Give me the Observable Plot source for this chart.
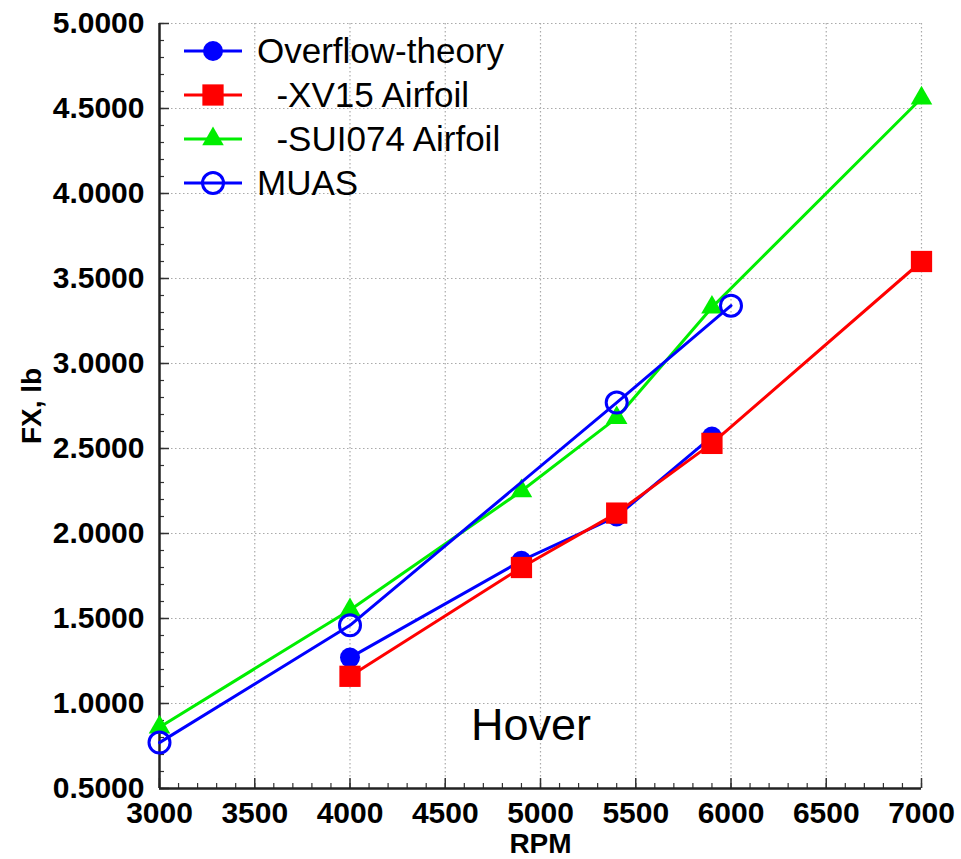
<!DOCTYPE html>
<html><head><meta charset="utf-8">
<script src="https://cdn.jsdelivr.net/npm/d3@7"></script>
<script src="https://cdn.jsdelivr.net/npm/@observablehq/plot@0.6"></script>
<style>
body{margin:0;background:#fff;}
#wrap{position:relative;width:961px;height:859px;font-family:"Liberation Sans",Arial,sans-serif;}
#wrap svg{display:block;}
[aria-label="x-axis tick label"] text,[aria-label="y-axis tick label"] text{font-size:30px;font-weight:bold;}
[aria-label="x-axis label"] text{font-size:28px;font-weight:bold;}
[aria-label="y-axis label"] text{font-size:28px;font-weight:bold;}
.leg{position:absolute;left:182px;height:40px;display:flex;align-items:center;font-size:35px;color:#000;white-space:pre;}
.leg svg{margin-right:13px;}
</style></head><body><div id="wrap"></div>
<script>
// Data
const seriesNames = ["Overflow-theory", "  -XV15 Airfoil", "  -SUI074 Airfoil", "MUAS"];
const rpmOverflow = [4000, 4900, 5400, 5900];
const fxOverflow  = [1.27, 1.84, 2.10, 2.57];
const rpmXV15 = [4000, 4900, 5400, 5900, 7000];
const fxXV15  = [1.16, 1.80, 2.12, 2.53, 3.60];
const rpmSUI074 = [3000, 4000, 4900, 5400, 5900, 7000];
const fxSUI074  = [0.86, 1.55, 2.25, 2.68, 3.33, 4.56];
const rpmMUAS = [3000, 4000, 5400, 6000];
const fxMUAS  = [0.77, 1.46, 2.77, 3.34];
const xTicks = [3000, 3500, 4000, 4500, 5000, 5500, 6000, 6500, 7000];
const yTicks = [0.5, 1.0, 1.5, 2.0, 2.5, 3.0, 3.5, 4.0, 4.5, 5.0];
const xMinorTicks = d3.range(3000, 7001, 100);
const yMinorTicks = d3.range(5, 51, 1).map(d => d / 10);
const annotation = [{rpm: 4950, fx: 0.87, text: "Hover"}];

const styles = [
  {color: "#0000ff", symbol: "circle", fill: true, r: 10},
  {color: "#ff0000", symbol: "square", fill: true, r: 12},
  {color: "#00ee00", symbol: "triangle", fill: true, r: 8},
  {color: "#0000ff", symbol: "circle", fill: false, r: 10.5}
];
const rows = (xs, ys) => xs.map((x, i) => ({rpm: x, fx: ys[i]}));
const data = [rows(rpmOverflow, fxOverflow), rows(rpmXV15, fxXV15), rows(rpmSUI074, fxSUI074), rows(rpmMUAS, fxMUAS)];

const W = 961, H = 859, mL = 159, mR = 40, mT = 23, mB = 71;
const plotH = H - mT - mB, plotW = W - mL - mR;

const seriesMarks = data.flatMap((d, i) => {
  const s = styles[i];
  return [
    Plot.line(d, {x: "rpm", y: "fx", stroke: s.color, strokeWidth: 3}),
    Plot.dot(d, {x: "rpm", y: "fx", symbol: s.symbol, r: s.r,
      fill: s.fill ? s.color : "none", stroke: s.color, strokeWidth: s.fill ? 0 : 3})
  ];
});

const chart = Plot.plot({
  width: W, height: H, marginLeft: mL, marginRight: mR, marginTop: mT, marginBottom: mB,
  style: {fontFamily: "'Liberation Sans', Arial, sans-serif", background: "white", color: "black"},
  x: {domain: [3000, 7000]},
  y: {domain: [0.5, 5]},
  marks: [
    Plot.gridX(xTicks.slice(1), {stroke: "#aaa", strokeOpacity: 1, strokeDasharray: "1.5,2.5", strokeWidth: 1.2}),
    Plot.gridY(yTicks.slice(1), {stroke: "#aaa", strokeOpacity: 1, strokeDasharray: "1.5,2.5", strokeWidth: 1.2}),
    Plot.axisX(xTicks, {tickSize: 0, tickPadding: 13, tickFormat: d => String(d), label: "RPM", labelAnchor: "center", labelArrow: "none", labelOffset: 64}),
    Plot.axisY(yTicks, {tickSize: 0, tickPadding: 15, tickFormat: d => d.toFixed(4), label: "FX, lb", labelAnchor: "center", labelArrow: "none", labelOffset: 138}),
    Plot.tickX(xMinorTicks, {x: d => d, insetTop: plotH - 5, stroke: "#333", strokeWidth: 1.2}),
    Plot.tickX(xTicks, {x: d => d, insetTop: plotH - 10, stroke: "#333", strokeWidth: 1.5}),
    Plot.tickY(yMinorTicks, {y: d => d, insetRight: plotW - 5, stroke: "#333", strokeWidth: 1.2}),
    Plot.tickY(yTicks, {y: d => d, insetRight: plotW - 10, stroke: "#333", strokeWidth: 1.5}),
    Plot.ruleX([3000], {stroke: "#222", strokeWidth: 2.5}),
    Plot.ruleY([0.5], {stroke: "#222", strokeWidth: 2.5}),
    Plot.text(annotation, {x: "rpm", y: "fx", text: "text", fontSize: 45, fill: "black"}),
    ...seriesMarks
  ]
});
const wrap = document.getElementById("wrap");
wrap.appendChild(chart);

// Legend (inside the plot area, top-left)
seriesNames.forEach((name, i) => {
  const s = styles[i];
  const row = document.createElement("div");
  row.className = "leg";
  row.style.top = (31 + i * 44) + "px";
  const sym = d3.symbol(s.symbol === "circle" ? d3.symbolCircle : s.symbol === "square" ? d3.symbolSquare : d3.symbolTriangle, Math.PI * s.r * s.r)();
  row.innerHTML = `<svg width="62" height="40"><line x1="2" x2="60" y1="20" y2="20" stroke="${s.color}" stroke-width="3"/>` +
    `<path transform="translate(31,20)" d="${sym}" fill="${s.fill ? s.color : "none"}" stroke="${s.color}" stroke-width="${s.fill ? 0 : 3}"/></svg>`;
  const t = document.createElement("span");
  t.textContent = name;
  row.appendChild(t);
  wrap.appendChild(row);
});
</script></body></html>
